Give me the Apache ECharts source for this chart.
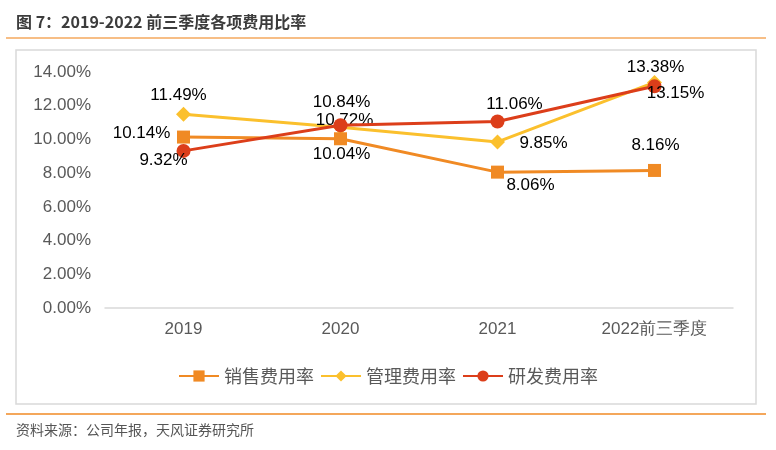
<!DOCTYPE html>
<html><head><meta charset="utf-8">
<script src="https://cdn.jsdelivr.net/npm/echarts@6/dist/echarts.min.js"></script>
<style>html,body{margin:0;padding:0;background:#fff}#c{width:776px;height:450px}</style>
</head><body><div id="c"></div>
<script>
const categories = ['2019', '2020', '2021', '2022前三季度'];
const salesRate = [10.14, 10.04, 8.06, 8.16];
const mgmtRate = [11.49, 10.72, 9.85, 13.38];
const rdRate = [9.32, 10.84, 11.06, 13.15];
const yTicks = [0, 2, 4, 6, 8, 10, 12, 14];

const chart = echarts.init(document.getElementById('c'));
const F = '"Liberation Sans", Arial, sans-serif';
const CJK = '"Noto Sans CJK SC", sans-serif';

// label offsets (from the symbol centre), presentation only
const salesOff = [[-42, -4], [1, 16], [33, 13], [1, -25]];
const mgmtOff = [[-5, -19], [4, -7], [46, 1], [1, -15]];
const rdOff = [[-20, 9], [1, -23], [17, -17], [21, 7]];

function mk(values, offs) {
  return values.map((v, i) => ({ value: v, label: { offset: offs[i] } }));
}

const labelStyle = {
  show: true, position: 'inside', color: '#000', fontSize: 17, fontFamily: F,
  formatter: p => p.value.toFixed(2) + '%'
};

chart.setOption({
  animation: false,
  graphic: [
    { type: 'text', left: 16, top: 14, style: { text: '图 7：2019-2022 前三季度各项费用比率', fontSize: 16, fontWeight: 'bold', fill: '#3c3c3c', fontFamily: CJK } },
    { type: 'line', shape: { x1: 6, y1: 38, x2: 766, y2: 38 }, style: { stroke: '#F7BE86', lineWidth: 2 } },
    { type: 'rect', shape: { x: 16, y: 50, width: 740, height: 354 }, style: { fill: 'none', stroke: '#D9D9D9', lineWidth: 1.5 } },
    { type: 'line', shape: { x1: 6, y1: 414, x2: 766, y2: 414 }, style: { stroke: '#F08A24', lineWidth: 1.5 } },
    { type: 'text', left: 16, top: 423, style: { text: '资料来源：公司年报，天风证券研究所', fontSize: 14, fill: '#555', fontFamily: CJK } }
  ],
  grid: { left: 105, right: 43, top: 72, bottom: 142 },
  legend: {
    top: 362, left: 'center', itemGap: 6, itemWidth: 40, itemHeight: 14,
    textStyle: { fontSize: 18, color: '#595959', fontFamily: CJK },
    data: ['销售费用率', '管理费用率', '研发费用率']
  },
  xAxis: {
    type: 'category', data: categories, boundaryGap: true,
    axisLine: { lineStyle: { color: '#D9D9D9', width: 1.5 } },
    axisTick: { show: false },
    axisLabel: { fontSize: 17, color: '#595959', fontFamily: F, margin: 13 }
  },
  yAxis: {
    type: 'value', min: 0, max: 14, interval: 2,
    splitLine: { show: false },
    axisLine: { show: false }, axisTick: { show: false },
    axisLabel: { fontSize: 17, color: '#595959', fontFamily: F, margin: 14, formatter: v => yTicks.includes(v) ? v.toFixed(2) + '%' : '' }
  },
  series: [
    { name: '销售费用率', type: 'line', data: mk(salesRate, salesOff), symbol: 'rect', symbolSize: 13,
      lineStyle: { color: '#F08A24', width: 3 }, itemStyle: { color: '#F08A24' }, label: labelStyle, z: 3 },
    { name: '管理费用率', type: 'line', data: mk(mgmtRate, mgmtOff), symbol: 'diamond', symbolSize: 15,
      lineStyle: { color: '#FBC02D', width: 3 }, itemStyle: { color: '#FBC02D' }, label: labelStyle, z: 2 },
    { name: '研发费用率', type: 'line', data: mk(rdRate, rdOff), symbol: 'circle', symbolSize: 14,
      lineStyle: { color: '#DC3E1A', width: 3 }, itemStyle: { color: '#DC3E1A' }, label: labelStyle, z: 4 }
  ]
});
</script></body></html>
